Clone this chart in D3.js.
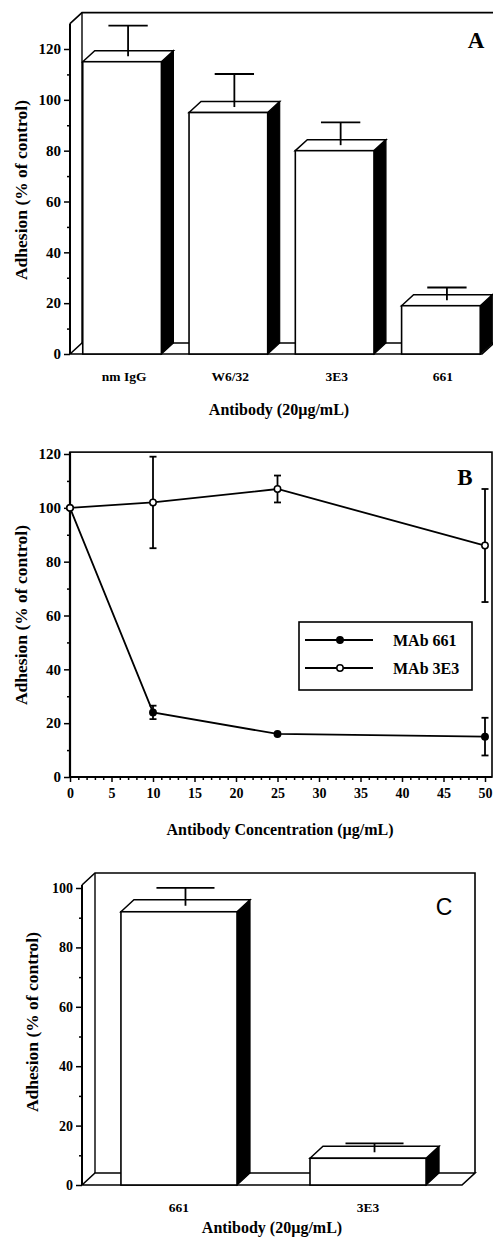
<!DOCTYPE html>
<html>
<head>
<meta charset="utf-8">
<script src="https://d3js.org/d3.v7.min.js"></script>
<style>
    body { margin: 0; background: #fff; }
    svg { display: block; }
    text { font-family: "Liberation Serif", "Times New Roman", serif; font-weight: bold; fill: #000; }
</style>
</head>
<body>
<svg id="plotSVG" width="493" height="1239"></svg>
<script>
// panel A - 3D bars
let aLabels = ["nm IgG", "W6/32", "3E3", "661"]
let aValues = [115, 95, 80, 19]
let aErrors = [12, 13, 9, 5]
let aTicks = [0, 20, 40, 60, 80, 100, 120]

// panel B - dose response
let bConc = [0, 10, 25, 50]
let b661 = [100, 24, 16, 15]
let b661Err = [0, 2.5, 0, 7]
let b3E3 = [100, 102, 107, 86]
let b3E3Err = [0, 17, 5, 21]
let bXTicks = [0, 5, 10, 15, 20, 25, 30, 35, 40, 45, 50]
let bYTicks = [0, 20, 40, 60, 80, 100, 120]
let bLegend = ["MAb 661", "MAb 3E3"]

// panel C - 3D bars
let cLabels = ["661", "3E3"]
let cValues = [92, 9]
let cErrors = [6, 3]
let cTicks = [0, 20, 40, 60, 80, 100]

let svg = d3.select("#plotSVG")
svg.append("rect").attr("width", 493).attr("height", 1239).attr("fill", "#fff")

// minor ticks every 10 between the labelled ones
function minorOf(ticks) {
    let out = []
    for (let i = 0; i < ticks.length - 1; i++) out.push((ticks[i] + ticks[i + 1]) / 2)
    return out
}

function styleAxis(ax, size) {
    ax.select(".domain").remove()
    ax.selectAll(".tick line").attr("stroke", "#000").attr("stroke-width", 1.5)
    ax.selectAll(".tick text").style("font-size", size + "px")
}

function bars3d(g, labels, values, errors, ticks, o) {
    let yScale = d3.scaleLinear().domain([0, ticks[ticks.length - 1]]).range([o.bottom, o.top])
    let xScale = d3.scaleBand().domain(labels).range(o.xRange)
        .paddingInner(o.padIn).paddingOuter(o.padOut)
    let dx = o.dx, dy = o.dy
    let y0 = yScale(0)
    let fTop = yScale(o.frameMax)
    let left = o.xRange[0]

    // back wall
    g.append("path")
        .attr("d", `M${left},${fTop} L${left + dx},${fTop - dy} L${o.backRight},${fTop - dy} L${o.backRight},${y0 - dy}`)
        .attr("fill", "none").attr("stroke", "#000").attr("stroke-width", 1.6)
    g.append("line")
        .attr("x1", left + dx).attr("x2", left + dx).attr("y1", fTop - dy).attr("y2", y0 - dy)
        .attr("stroke", "#000").attr("stroke-width", 1.4)
    // floor
    g.append("path")
        .attr("d", `M${left},${y0} L${left + dx},${y0 - dy} L${o.backRight},${y0 - dy} L${o.backRight - dx},${y0} Z`)
        .attr("fill", "#fff").attr("stroke", "#000").attr("stroke-width", 1.6)

    // y axis
    let ax = g.append("g").attr("transform", `translate(${left},0)`)
        .call(d3.axisLeft(yScale).tickValues(ticks).tickSize(6).tickPadding(3))
    styleAxis(ax, o.tickFont)
    let mx = g.append("g").attr("transform", `translate(${left},0)`)
        .call(d3.axisLeft(yScale).tickValues(minorOf(ticks)).tickSize(3).tickFormat(""))
    styleAxis(mx, o.tickFont)
    g.append("line").attr("x1", left).attr("x2", left).attr("y1", y0).attr("y2", fTop)
        .attr("stroke", "#000").attr("stroke-width", 2)

    let bars = g.selectAll(".bar").data(labels).join("g").attr("class", "bar")
    // black side face
    bars.append("path")
        .attr("d", (d, i) => {
            let x1 = xScale(d) + xScale.bandwidth(), yv = yScale(values[i])
            return `M${x1},${y0} L${x1 + dx},${y0 - dy} L${x1 + dx},${yv - dy} L${x1},${yv} Z`
        })
        .attr("fill", "#000").attr("stroke", "#000").attr("stroke-width", 1.2)
    // top face
    bars.append("path")
        .attr("d", (d, i) => {
            let x0 = xScale(d), x1 = x0 + xScale.bandwidth(), yv = yScale(values[i])
            return `M${x0},${yv} L${x0 + dx},${yv - dy} L${x1 + dx},${yv - dy} L${x1},${yv} Z`
        })
        .attr("fill", "#fff").attr("stroke", "#000").attr("stroke-width", 1.5)
    // front face
    bars.append("rect")
        .attr("x", d => xScale(d))
        .attr("y", (d, i) => yScale(values[i]))
        .attr("width", xScale.bandwidth())
        .attr("height", (d, i) => y0 - yScale(values[i]))
        .attr("fill", "#fff").attr("stroke", "#000").attr("stroke-width", 1.6)

    // error bars sit in the middle of the top face
    let cap = xScale.bandwidth() / 4
    bars.append("line")
        .attr("x1", d => xScale(d) + xScale.bandwidth() / 2 + dx / 2)
        .attr("x2", d => xScale(d) + xScale.bandwidth() / 2 + dx / 2)
        .attr("y1", (d, i) => yScale(values[i]) - dy / 2)
        .attr("y2", (d, i) => yScale(values[i] + errors[i]) - dy / 2)
        .attr("stroke", "#000").attr("stroke-width", 1.8)
    bars.append("line")
        .attr("x1", d => xScale(d) + xScale.bandwidth() / 2 + dx / 2 - cap)
        .attr("x2", d => xScale(d) + xScale.bandwidth() / 2 + dx / 2 + cap)
        .attr("y1", (d, i) => yScale(values[i] + errors[i]) - dy / 2)
        .attr("y2", (d, i) => yScale(values[i] + errors[i]) - dy / 2)
        .attr("stroke", "#000").attr("stroke-width", 1.8)

    // category labels
    g.selectAll(".cat").data(labels).join("text")
        .attr("class", "cat")
        .attr("x", d => xScale(d) + xScale.bandwidth() / 2 + o.labelShift)
        .attr("y", o.labelY)
        .attr("text-anchor", "middle")
        .style("font-size", "13.5px")
        .text(d => d)
}

// ---------- A ----------
let gA = svg.append("g")
bars3d(gA, aLabels, aValues, aErrors, aTicks, {
    bottom: 354, top: 49, frameMax: 130, dx: 12, dy: 11,
    xRange: [70, 493], padIn: 0.26, padOut: 0.12, backRight: 494,
    tickFont: 15, labelY: 381, labelShift: 2
})
gA.append("text").attr("x", 476).attr("y", 48).attr("text-anchor", "middle")
    .style("font-size", "23px").text("A")
gA.append("text").attr("transform", "translate(27,190) rotate(-90)")
    .attr("text-anchor", "middle").style("font-size", "17.5px").text("Adhesion (% of control)")
gA.append("text").attr("x", 279).attr("y", 415).attr("text-anchor", "middle")
    .style("font-size", "16px").text("Antibody (20µg/mL)")

// ---------- B ----------
let gB = svg.append("g")
let bx = d3.scaleLinear().domain([0, 50]).range([70, 485])
let by = d3.scaleLinear().domain([0, 120]).range([777, 454])

gB.append("rect")
    .attr("x", bx(0)).attr("y", by(120.7))
    .attr("width", 492 - bx(0)).attr("height", by(0) - by(120.7))
    .attr("fill", "none").attr("stroke", "#000").attr("stroke-width", 1.6)

let bxAxis = gB.append("g").attr("transform", `translate(0,${by(0)})`)
    .call(d3.axisBottom(bx).tickValues(bXTicks).tickSize(5).tickPadding(6))
styleAxis(bxAxis, 14)
let bxMinor = gB.append("g").attr("transform", `translate(0,${by(0)})`)
    .call(d3.axisBottom(bx).tickValues(d3.range(0, 51).filter(v => v % 5 !== 0)).tickSize(3).tickFormat(""))
styleAxis(bxMinor, 14)
let byAxis = gB.append("g").attr("transform", `translate(${bx(0)},0)`)
    .call(d3.axisLeft(by).tickValues(bYTicks).tickSize(6).tickPadding(3))
styleAxis(byAxis, 15)
let byMinor = gB.append("g").attr("transform", `translate(${bx(0)},0)`)
    .call(d3.axisLeft(by).tickValues(minorOf(bYTicks)).tickSize(3).tickFormat(""))
styleAxis(byMinor, 15)
gB.append("line").attr("x1", bx(0)).attr("x2", bx(0)).attr("y1", by(0)).attr("y2", by(120.7))
    .attr("stroke", "#000").attr("stroke-width", 2.2)
gB.append("line").attr("x1", bx(0)).attr("x2", 492).attr("y1", by(0)).attr("y2", by(0))
    .attr("stroke", "#000").attr("stroke-width", 2.2)

let series = [
    {name: bLegend[0], vals: b661, errs: b661Err, fill: "#000"},
    {name: bLegend[1], vals: b3E3, errs: b3E3Err, fill: "#fff"}
]
let line = d3.line().x(d => bx(d[0])).y(d => by(d[1]))

series.forEach(s => {
    let pts = bConc.map((c, i) => [c, s.vals[i], s.errs[i]])
    gB.append("path").datum(pts).attr("d", line)
        .attr("fill", "none").attr("stroke", "#000").attr("stroke-width", 1.8)
    let eb = gB.selectAll(null).data(pts.filter(p => p[2] > 0)).join("g")
    eb.append("line")
        .attr("x1", d => bx(d[0])).attr("x2", d => bx(d[0]))
        .attr("y1", d => by(d[1] - d[2])).attr("y2", d => by(d[1] + d[2]))
        .attr("stroke", "#000").attr("stroke-width", 1.8)
    eb.selectAll("line.cap").data(d => [[d[0], d[1] - d[2]], [d[0], d[1] + d[2]]]).join("line")
        .attr("class", "cap")
        .attr("x1", d => bx(d[0]) - 3.5).attr("x2", d => bx(d[0]) + 3.5)
        .attr("y1", d => by(d[1])).attr("y2", d => by(d[1]))
        .attr("stroke", "#000").attr("stroke-width", 1.8)
    gB.selectAll(null).data(pts).join("circle")
        .attr("cx", d => bx(d[0])).attr("cy", d => by(d[1])).attr("r", 3.2)
        .attr("fill", s.fill).attr("stroke", "#000").attr("stroke-width", 1.5)
})

// legend
let lg = gB.append("g")
lg.append("rect").attr("x", 299).attr("y", 622).attr("width", 173).attr("height", 68)
    .attr("fill", "#fff").attr("stroke", "#000").attr("stroke-width", 1.6)
series.forEach((s, i) => {
    let ly = 640 + i * 28
    lg.append("line").attr("x1", 305).attr("x2", 373).attr("y1", ly).attr("y2", ly)
        .attr("stroke", "#000").attr("stroke-width", 1.8)
    lg.append("circle").attr("cx", 340).attr("cy", ly).attr("r", 3.2)
        .attr("fill", s.fill).attr("stroke", "#000").attr("stroke-width", 1.5)
    lg.append("text").attr("x", 393).attr("y", ly + 5.5).style("font-size", "16px").text(s.name)
})

gB.append("text").attr("x", 465).attr("y", 485).attr("text-anchor", "middle")
    .style("font-size", "23px").text("B")
gB.append("text").attr("transform", "translate(27,615) rotate(-90)")
    .attr("text-anchor", "middle").style("font-size", "17.5px").text("Adhesion (% of control)")
gB.append("text").attr("x", 280).attr("y", 835).attr("text-anchor", "middle")
    .style("font-size", "16px").text("Antibody Concentration (µg/mL)")

// ---------- C ----------
let gC = svg.append("g")
bars3d(gC, cLabels, cValues, cErrors, cTicks, {
    bottom: 1185, top: 888, frameMax: 101, dx: 13, dy: 12,
    xRange: [82, 465], padIn: 0.386, padOut: 0.206, backRight: 475,
    tickFont: 14, labelY: 1212, labelShift: 0
})
gC.append("text").attr("x", 444).attr("y", 915).attr("text-anchor", "middle")
    .style("font-family", "'Liberation Sans', Arial, sans-serif").style("font-weight", "normal")
    .style("font-size", "23px").text("C")
gC.append("text").attr("transform", "translate(38,1022) rotate(-90)")
    .attr("text-anchor", "middle").style("font-size", "17.5px").text("Adhesion (% of control)")
gC.append("text").attr("x", 272).attr("y", 1233).attr("text-anchor", "middle")
    .style("font-size", "16px").text("Antibody (20µg/mL)")
</script>
</body>
</html>
